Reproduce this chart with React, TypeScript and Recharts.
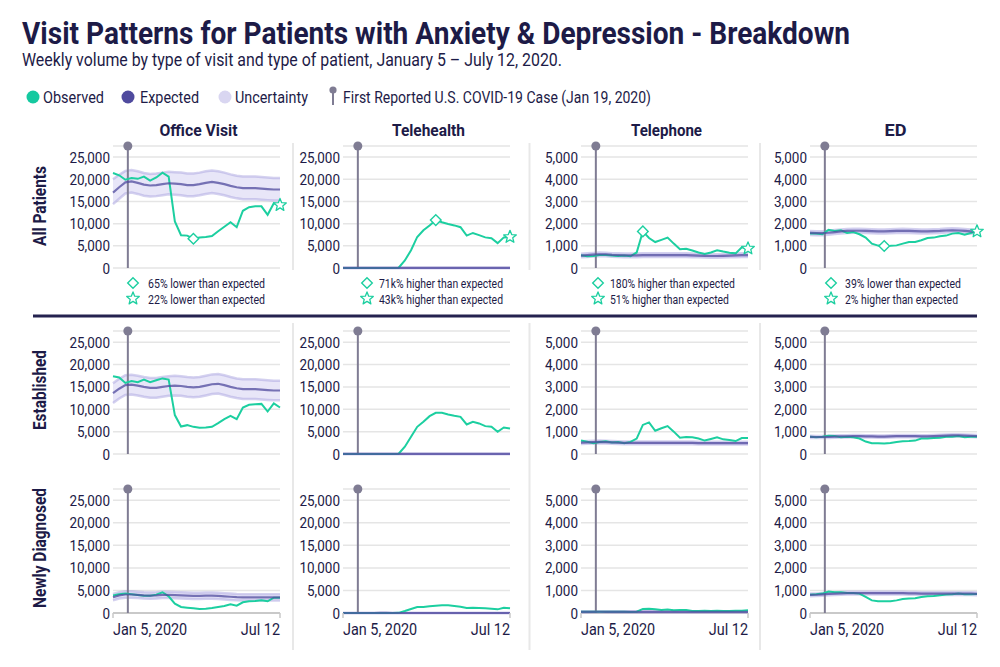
import React from "react";
import {
  ComposedChart,
  Line,
  Area,
  XAxis,
  YAxis,
  CartesianGrid,
  ReferenceLine,
  ReferenceDot
} from "recharts";

// weeks, Jan 5 – Jul 12, 2020
const WEEKS = [
  "Jan 5", "Jan 12", "Jan 19", "Jan 26", "Feb 2", "Feb 9", "Feb 16", "Feb 23", "Mar 1", "Mar 8",
  "Mar 15", "Mar 22", "Mar 29", "Apr 5", "Apr 12", "Apr 19", "Apr 26", "May 3", "May 10", "May 17",
  "May 24", "May 31", "Jun 7", "Jun 14", "Jun 21", "Jun 28", "Jul 5", "Jul 12"
];
const X_TICK_LABELS = ["Jan 5, 2020", "Jul 12"];
const PIN_WEEK = 2.4; // first reported case, between the Jan 19 and Jan 26 points

const COLUMNS = ["Office Visit", "Telehealth", "Telephone", "ED"];
const ROWS = ["All Patients", "Established", "Newly Diagnosed"];

const BIG_TICKS = [0, 5000, 10000, 15000, 20000, 25000];
const SMALL_TICKS = [0, 1000, 2000, 3000, 4000, 5000];

// ---- All patients ----
const ALL_OFFICE_OBS = [21400, 20900, 19900, 20300, 20100, 20600, 19700, 20400, 21500, 20600, 10500, 7400, 7300, 6600, 6900, 7000, 7200, 8300, 9300, 10300, 9200, 12900, 13700, 13900, 13900, 12000, 14600, 14200];
const ALL_OFFICE_EXP = [17000, 18200, 19300, 19500, 19200, 18800, 18600, 18700, 18900, 19100, 19000, 18900, 18700, 18700, 18900, 19200, 19400, 19200, 18900, 18500, 18200, 18000, 18000, 18000, 17900, 17800, 17700, 17700];
const ALL_OFFICE_LO = [14400, 15600, 16800, 17000, 16700, 16300, 16100, 16200, 16400, 16600, 16500, 16400, 16200, 16200, 16400, 16700, 16900, 16700, 16400, 16000, 15700, 15500, 15500, 15500, 15400, 15300, 15200, 15200];
const ALL_OFFICE_HI = [20000, 21000, 21900, 22100, 21800, 21400, 21200, 21300, 21500, 21700, 21600, 21500, 21300, 21300, 21500, 21800, 22000, 21800, 21500, 21100, 20800, 20600, 20600, 20600, 20500, 20400, 20300, 20300];

const ALL_TELE_OBS = [0, 0, 0, 0, 0, 0, 0, 0, 0, 60, 1700, 4000, 7000, 8500, 9600, 10800, 10300, 9900, 9600, 9200, 7300, 7900, 7400, 6900, 6700, 5600, 6900, 7000];
const ALL_TELE_EXP = [15, 15, 14, 14, 15, 15, 16, 16, 15, 15, 15, 15, 15, 15, 15, 15, 15, 15, 15, 15, 15, 15, 15, 15, 15, 15, 15, 15];
const ALL_TELE_LO = [5, 5, 4, 4, 5, 5, 6, 6, 5, 5, 5, 5, 5, 5, 5, 5, 5, 5, 5, 5, 5, 5, 5, 5, 5, 5, 5, 5];
const ALL_TELE_HI = [25, 25, 24, 24, 25, 25, 26, 26, 25, 25, 25, 25, 25, 25, 25, 25, 25, 25, 25, 25, 25, 25, 25, 25, 25, 25, 25, 25];

const ALL_PHONE_OBS = [570, 530, 540, 590, 590, 560, 540, 560, 530, 700, 1650, 1350, 1170, 1270, 1370, 1100, 850, 870, 790, 700, 630, 700, 800, 740, 690, 660, 930, 880];
const ALL_PHONE_EXP = [560, 580, 600, 620, 610, 590, 580, 570, 570, 570, 580, 580, 580, 580, 580, 580, 580, 580, 570, 560, 550, 540, 540, 550, 560, 570, 580, 580];
const ALL_PHONE_LO = [480, 500, 520, 540, 530, 510, 500, 490, 490, 490, 500, 500, 500, 500, 500, 500, 500, 500, 490, 480, 470, 460, 460, 470, 480, 490, 500, 500];
const ALL_PHONE_HI = [640, 660, 680, 700, 690, 670, 660, 650, 650, 650, 660, 660, 660, 660, 660, 660, 660, 660, 650, 640, 630, 620, 620, 630, 640, 650, 660, 660];

const ALL_ED_OBS = [1550, 1550, 1520, 1720, 1670, 1700, 1580, 1620, 1520, 1370, 1100, 1010, 990, 1000, 1020, 1100, 1170, 1170, 1250, 1350, 1370, 1430, 1460, 1550, 1580, 1500, 1580, 1650];
const ALL_ED_EXP = [1580, 1570, 1570, 1590, 1620, 1650, 1670, 1680, 1680, 1670, 1660, 1650, 1650, 1660, 1670, 1680, 1670, 1660, 1650, 1650, 1660, 1670, 1690, 1700, 1690, 1670, 1650, 1620];
const ALL_ED_LO = [1490, 1480, 1480, 1500, 1530, 1560, 1580, 1590, 1590, 1580, 1570, 1560, 1560, 1570, 1580, 1590, 1580, 1570, 1560, 1560, 1570, 1580, 1600, 1610, 1600, 1580, 1560, 1530];
const ALL_ED_HI = [1670, 1660, 1660, 1680, 1710, 1740, 1760, 1770, 1770, 1760, 1750, 1740, 1740, 1750, 1760, 1770, 1760, 1750, 1740, 1740, 1750, 1760, 1780, 1790, 1780, 1760, 1740, 1710];

// ---- Established ----
const EST_OFFICE_OBS = [17400, 17100, 15900, 16300, 16050, 16650, 16050, 16500, 16900, 16650, 8700, 6150, 6450, 6070, 5850, 5900, 6070, 6900, 7800, 8500, 7800, 10400, 11000, 11100, 11200, 9500, 11300, 10400];
const EST_OFFICE_EXP = [13600, 14600, 15400, 15500, 15300, 15000, 14800, 14800, 15000, 15200, 15300, 15200, 15000, 14900, 15000, 15300, 15600, 15700, 15400, 15000, 14700, 14500, 14500, 14500, 14400, 14300, 14200, 14200];
const EST_OFFICE_LO = [11400, 12400, 13200, 13300, 13100, 12800, 12600, 12600, 12800, 13000, 13100, 13000, 12800, 12700, 12800, 13100, 13400, 13500, 13200, 12800, 12500, 12300, 12300, 12300, 12200, 12100, 12000, 12000];
const EST_OFFICE_HI = [15800, 16800, 17600, 17700, 17500, 17200, 17000, 17000, 17200, 17400, 17500, 17400, 17200, 17100, 17200, 17500, 17800, 17900, 17600, 17200, 16900, 16700, 16700, 16700, 16600, 16500, 16400, 16400];

const EST_TELE_OBS = [0, 0, 0, 0, 0, 0, 0, 0, 0, 50, 1630, 3860, 6080, 7200, 8460, 9200, 9200, 8830, 8530, 8300, 6600, 7200, 6830, 6230, 6080, 4970, 5940, 5700];
const EST_TELE_EXP = [12, 12, 12, 11, 12, 12, 13, 13, 12, 12, 12, 12, 12, 12, 12, 12, 12, 12, 12, 12, 12, 12, 12, 12, 12, 12, 12, 12];
const EST_TELE_LO = [4, 4, 4, 3, 4, 4, 5, 5, 4, 4, 4, 4, 4, 4, 4, 4, 4, 4, 4, 4, 4, 4, 4, 4, 4, 4, 4, 4];
const EST_TELE_HI = [20, 20, 20, 19, 20, 20, 21, 21, 20, 20, 20, 20, 20, 20, 20, 20, 20, 20, 20, 20, 20, 20, 20, 20, 20, 20, 20, 20];

const EST_PHONE_OBS = [600, 550, 480, 540, 570, 510, 540, 480, 540, 690, 1300, 1415, 1040, 1150, 1250, 1000, 730, 760, 745, 690, 600, 670, 745, 655, 625, 580, 715, 715];
const EST_PHONE_EXP = [510, 520, 530, 540, 530, 520, 510, 500, 500, 500, 500, 500, 500, 500, 500, 500, 500, 500, 500, 490, 490, 490, 490, 490, 490, 490, 490, 490];
const EST_PHONE_LO = [450, 460, 470, 480, 470, 460, 450, 440, 440, 440, 440, 440, 440, 440, 440, 440, 440, 440, 440, 430, 430, 430, 430, 430, 430, 430, 430, 430];
const EST_PHONE_HI = [570, 580, 590, 600, 590, 580, 570, 560, 560, 560, 560, 560, 560, 560, 560, 560, 560, 560, 560, 550, 550, 550, 550, 550, 550, 550, 550, 550];

const EST_ED_OBS = [775, 745, 775, 820, 805, 745, 775, 745, 690, 555, 480, 480, 465, 490, 540, 570, 580, 600, 690, 690, 715, 730, 775, 775, 805, 745, 775, 775];
const EST_ED_EXP = [770, 760, 760, 770, 780, 790, 790, 800, 800, 790, 790, 780, 780, 790, 800, 800, 800, 800, 790, 790, 800, 810, 820, 830, 830, 820, 810, 800];
const EST_ED_LO = [720, 710, 710, 720, 730, 740, 740, 750, 750, 740, 740, 730, 730, 740, 750, 750, 750, 750, 740, 740, 750, 760, 770, 780, 780, 770, 760, 750];
const EST_ED_HI = [820, 810, 810, 820, 830, 840, 840, 850, 850, 840, 840, 830, 830, 840, 850, 850, 850, 850, 840, 840, 850, 860, 870, 880, 880, 870, 860, 850];

// ---- Newly diagnosed ----
const NEW_OFFICE_OBS = [3900, 4150, 4300, 4150, 4000, 3800, 3850, 4070, 4600, 3700, 2070, 1330, 1180, 1040, 890, 960, 1110, 1330, 1550, 1920, 1630, 2370, 2590, 2660, 2810, 2590, 3400, 3400];
const NEW_OFFICE_EXP = [3500, 3900, 4100, 4100, 4000, 3900, 3850, 3900, 4000, 4000, 3950, 3900, 3850, 3800, 3800, 3850, 3850, 3800, 3700, 3600, 3500, 3450, 3450, 3450, 3450, 3450, 3450, 3450];
const NEW_OFFICE_LO = [2800, 3200, 3400, 3400, 3300, 3200, 3150, 3200, 3300, 3300, 3250, 3200, 3150, 3100, 3100, 3150, 3150, 3100, 3000, 2900, 2800, 2750, 2750, 2750, 2750, 2750, 2750, 2750];
const NEW_OFFICE_HI = [4200, 4600, 4800, 4800, 4700, 4600, 4550, 4600, 4700, 4700, 4650, 4600, 4550, 4500, 4500, 4550, 4550, 4500, 4400, 4300, 4200, 4150, 4150, 4150, 4150, 4150, 4150, 4150];

const NEW_TELE_OBS = [0, 0, 0, 0, 0, 0, 0, 0, 0, 30, 440, 890, 1330, 1330, 1480, 1630, 1700, 1700, 1550, 1400, 1110, 1180, 1110, 1040, 960, 810, 1180, 1040];
const NEW_TELE_EXP = [5, 5, 5, 4, 5, 5, 6, 6, 5, 5, 5, 5, 5, 5, 5, 5, 5, 5, 5, 5, 5, 5, 5, 5, 5, 5, 5, 5];
const NEW_TELE_LO = [1, 1, 1, 0, 1, 1, 2, 2, 1, 1, 1, 1, 1, 1, 1, 1, 1, 1, 1, 1, 1, 1, 1, 1, 1, 1, 1, 1];
const NEW_TELE_HI = [9, 9, 9, 8, 9, 9, 10, 10, 9, 9, 9, 9, 9, 9, 9, 9, 9, 9, 9, 9, 9, 9, 9, 9, 9, 9, 9, 9];

const NEW_PHONE_OBS = [60, 55, 50, 55, 60, 50, 55, 50, 45, 60, 180, 190, 165, 135, 150, 120, 135, 135, 90, 90, 105, 90, 105, 90, 90, 105, 105, 120];
const NEW_PHONE_EXP = [50, 52, 54, 55, 54, 52, 50, 50, 50, 50, 50, 50, 50, 50, 50, 50, 50, 50, 50, 48, 48, 48, 48, 48, 48, 48, 48, 48];
const NEW_PHONE_LO = [25, 27, 29, 30, 29, 27, 25, 25, 25, 25, 25, 25, 25, 25, 25, 25, 25, 25, 25, 23, 23, 23, 23, 23, 23, 23, 23, 23];
const NEW_PHONE_HI = [75, 77, 79, 80, 79, 77, 75, 75, 75, 75, 75, 75, 75, 75, 75, 75, 75, 75, 75, 73, 73, 73, 73, 73, 73, 73, 73, 73];

const NEW_ED_OBS = [815, 830, 860, 950, 920, 920, 890, 890, 860, 710, 560, 520, 520, 520, 560, 620, 640, 650, 710, 740, 755, 785, 815, 830, 860, 830, 830, 845];
const NEW_ED_EXP = [800, 810, 830, 850, 860, 870, 880, 880, 880, 880, 880, 880, 880, 880, 880, 880, 870, 870, 860, 860, 860, 860, 860, 860, 860, 860, 860, 850];
const NEW_ED_LO = [740, 750, 770, 790, 800, 810, 820, 820, 820, 820, 820, 820, 820, 820, 820, 820, 810, 810, 800, 800, 800, 800, 800, 800, 800, 800, 800, 790];
const NEW_ED_HI = [860, 870, 890, 910, 920, 930, 940, 940, 940, 940, 940, 940, 940, 940, 940, 940, 930, 930, 920, 920, 920, 920, 920, 920, 920, 920, 920, 910];

// week flagged with the diamond in the top row (largest gap), per column
const DIAMOND_WEEK = [13, 15, 10, 12];
const DIAMOND_NOTES = ["65% lower than expected", "71k% higher than expected", "180% higher than expected", "39% lower than expected"];
const STAR_NOTES = ["22% lower than expected", "43k% higher than expected", "51% higher than expected", "2% higher than expected"];

const PANELS = [
  [ALL_OFFICE_OBS, ALL_OFFICE_EXP, ALL_OFFICE_LO, ALL_OFFICE_HI],
  [ALL_TELE_OBS, ALL_TELE_EXP, ALL_TELE_LO, ALL_TELE_HI],
  [ALL_PHONE_OBS, ALL_PHONE_EXP, ALL_PHONE_LO, ALL_PHONE_HI],
  [ALL_ED_OBS, ALL_ED_EXP, ALL_ED_LO, ALL_ED_HI],
  [EST_OFFICE_OBS, EST_OFFICE_EXP, EST_OFFICE_LO, EST_OFFICE_HI],
  [EST_TELE_OBS, EST_TELE_EXP, EST_TELE_LO, EST_TELE_HI],
  [EST_PHONE_OBS, EST_PHONE_EXP, EST_PHONE_LO, EST_PHONE_HI],
  [EST_ED_OBS, EST_ED_EXP, EST_ED_LO, EST_ED_HI],
  [NEW_OFFICE_OBS, NEW_OFFICE_EXP, NEW_OFFICE_LO, NEW_OFFICE_HI],
  [NEW_TELE_OBS, NEW_TELE_EXP, NEW_TELE_LO, NEW_TELE_HI],
  [NEW_PHONE_OBS, NEW_PHONE_EXP, NEW_PHONE_LO, NEW_PHONE_HI],
  [NEW_ED_OBS, NEW_ED_EXP, NEW_ED_LO, NEW_ED_HI]
];

// colours
const OBS_COLOR = "#1ccfa0";
const EXP_COLOR = "#4f4a9e";
const BAND_FILL = "#e8e6f8";
const BAND_EDGE = "#a9a4e0";
const PIN_COLOR = "#7f7c93";
const GRID = "#e5e5e5";
const AXIS = "#c9c9c9";
const INK = "#1d1b47";
const FONT = "Roboto, 'Noto Sans', sans-serif";

// layout
const COL_X = [113, 343, 581, 810];
const PLOT_W = 167;
const ROW_TOP = [146, 331, 489];
const ROW_H = [122, 123, 124];
const Y_AXIS_W = 62;
const PAD = 12;
const X_AXIS_H = 30;
const ICON_X = [133, 367, 598, 831];
const NOTE_X = [148, 379, 610, 845];
const DIAMOND_LEN = [117, 124, 125, 116];
const STAR_LEN = [117, 124, 119, 113];
const COL_TITLE_LEN = [78, 73, 71, 22];
const ROW_LABEL_Y = [206, 390, 548];
const ROW_LABEL_LEN = [80, 80, 120];

function starPoints(cx: number, cy: number, R: number, r: number) {
  const pts: string[] = [];
  for (let k = 0; k < 10; k++) {
    const a = -Math.PI / 2 + (k * Math.PI) / 5;
    const rad = k % 2 === 0 ? R : r;
    pts.push(`${(cx + rad * Math.cos(a)).toFixed(2)},${(cy + rad * Math.sin(a)).toFixed(2)}`);
  }
  return pts.join(" ");
}

function Diamond({ cx, cy }: { cx: number; cy: number }) {
  const s = 5.3;
  return (
    <polygon
      points={`${cx},${cy - s} ${cx + s},${cy} ${cx},${cy + s} ${cx - s},${cy}`}
      fill="#fff"
      stroke={OBS_COLOR}
      strokeWidth={1.4}
    />
  );
}

function Star({ cx, cy }: { cx: number; cy: number }) {
  return <polygon points={starPoints(cx, cy, 6.6, 2.9)} fill="#fff" stroke={OBS_COLOR} strokeWidth={1.3} strokeLinejoin="round" />;
}

function YTick(props: any) {
  const { x, y, payload } = props;
  return (
    <g transform={`translate(${x},${y})`}>
      <text textAnchor="end" dy="0.36em" transform="scale(0.87,1)" fontSize={15.5} fill={INK} fontFamily={FONT}>
        {Number(payload.value).toLocaleString("en-US")}
      </text>
    </g>
  );
}

function XTick(props: any) {
  const { x, y, payload } = props;
  const first = payload.value === 0;
  return (
    <g transform={`translate(${x},${y})`}>
      <text textAnchor={first ? "start" : "end"} dy={15} transform="scale(0.9,1)" fontSize={16} fill={INK} fontFamily={FONT}>
        {first ? X_TICK_LABELS[0] : X_TICK_LABELS[1]}
      </text>
    </g>
  );
}

function Panel({ row, col }: { row: number; col: number }) {
  const [obs, exp, lo, hi] = PANELS[row * 4 + col];
  const big = col < 2;
  const max = big ? 27500 : 5500;
  const bottomRow = row === 2;
  const w = Y_AXIS_W + PLOT_W + PAD;
  const h = PAD + ROW_H[row] + (bottomRow ? X_AXIS_H : 14);
  const data = WEEKS.map((week, i) => ({
    i,
    week,
    obs: obs[i],
    exp: exp[i],
    lo: lo[i],
    hi: hi[i],
    band: [lo[i], hi[i]]
  }));
  const markDot = (p: any) => {
    if (row === 0 && p.index === DIAMOND_WEEK[col]) return <Diamond key={`m${p.index}`} cx={p.cx} cy={p.cy} />;
    if (row === 0 && p.index === WEEKS.length - 1) return <Star key={`m${p.index}`} cx={p.cx} cy={p.cy} />;
    return <g key={`m${p.index}`} />;
  };

  return (
    <div style={{ position: "absolute", left: COL_X[col] - Y_AXIS_W, top: ROW_TOP[row] - PAD, width: w, height: h }}>
      <ComposedChart width={w} height={h} data={data} margin={{ top: PAD, right: PAD, left: 0, bottom: bottomRow ? 0 : 14 }}>
        <CartesianGrid vertical={false} stroke={GRID} strokeWidth={1.5} />
        {bottomRow && <ReferenceLine y={0} stroke={AXIS} strokeWidth={2} />}
        <XAxis
          dataKey="i"
          type="number"
          domain={[0, 27]}
          ticks={[0, 27]}
          interval={0}
          hide={!bottomRow}
          height={X_AXIS_H}
          axisLine={false}
          tickLine={{ stroke: AXIS, strokeWidth: 1.5 }}
          tickSize={5}
          tickMargin={2}
          tick={<XTick />}
        />
        <YAxis
          domain={[0, max]}
          ticks={big ? BIG_TICKS : SMALL_TICKS}
          interval={0}
          width={Y_AXIS_W}
          axisLine={false}
          tickLine={false}
          tickSize={0}
          tickMargin={3}
          tick={<YTick />}
        />
        <Area dataKey="band" stroke="none" fill={BAND_FILL} fillOpacity={1} isAnimationActive={false} />
        <Line dataKey="lo" stroke={BAND_EDGE} strokeOpacity={0.5} strokeWidth={2.5} dot={false} activeDot={false} isAnimationActive={false} />
        <Line dataKey="hi" stroke={BAND_EDGE} strokeOpacity={0.5} strokeWidth={2.5} dot={false} activeDot={false} isAnimationActive={false} />
        <ReferenceLine x={PIN_WEEK} stroke={PIN_COLOR} strokeWidth={2} />
        <ReferenceDot x={PIN_WEEK} y={max} r={4.5} fill={PIN_COLOR} stroke="none" ifOverflow="visible" />
        <Line dataKey="obs" stroke={OBS_COLOR} strokeWidth={2} dot={markDot} activeDot={false} isAnimationActive={false} />
        <Line dataKey="exp" stroke={EXP_COLOR} strokeOpacity={0.75} strokeWidth={2.2} dot={false} activeDot={false} isAnimationActive={false} />
      </ComposedChart>
    </div>
  );
}

export default function App() {
  return (
    <div style={{ position: "absolute", left: 0, top: 0, width: 1000, height: 667, background: "#fff", fontFamily: FONT }}>
      <svg width={1000} height={667} style={{ position: "absolute", left: 0, top: 0 }}>
        <text x={22} y={44} fontSize={31} fontWeight={700} fill={INK} textLength={828} lengthAdjust="spacingAndGlyphs">
          Visit Patterns for Patients with Anxiety &amp; Depression - Breakdown
        </text>
        <text x={22} y={66} fontSize={17.5} fill={INK} textLength={540} lengthAdjust="spacingAndGlyphs">
          Weekly volume by type of visit and type of patient, January 5 – July 12, 2020.
        </text>

        {/* legend */}
        <circle cx={33} cy={97} r={6.5} fill="#15c9a0" />
        <text x={43} y={102.5} fontSize={16} fill={INK} textLength={61} lengthAdjust="spacingAndGlyphs">Observed</text>
        <circle cx={128} cy={97} r={6.5} fill="#4f4a9e" />
        <text x={140} y={102.5} fontSize={16} fill={INK} textLength={59} lengthAdjust="spacingAndGlyphs">Expected</text>
        <circle cx={225} cy={97} r={6.5} fill="#d9d6f1" />
        <text x={235} y={102.5} fontSize={16} fill={INK} textLength={73} lengthAdjust="spacingAndGlyphs">Uncertainty</text>
        <line x1={333} y1={91} x2={333} y2={105} stroke={PIN_COLOR} strokeWidth={2} />
        <circle cx={333} cy={90} r={3.6} fill={PIN_COLOR} />
        <text x={343} y={102.5} fontSize={16} fill={INK} textLength={308} lengthAdjust="spacingAndGlyphs">
          First Reported U.S. COVID-19 Case (Jan 19, 2020)
        </text>

        {/* column titles */}
        {COLUMNS.map((c, k) => (
          <text key={c} x={COL_X[k] + PLOT_W / 2 + 2} y={136} textAnchor="middle" fontSize={17} fontWeight={700} fill={INK} textLength={COL_TITLE_LEN[k]} lengthAdjust="spacingAndGlyphs">
            {c}
          </text>
        ))}

        {/* row labels */}
        {ROWS.map((r, k) => (
          <text key={r} transform={`translate(46,${ROW_LABEL_Y[k]}) rotate(-90)`} textAnchor="middle" fontSize={18} fontWeight={700} fill={INK} textLength={ROW_LABEL_LEN[k]} lengthAdjust="spacingAndGlyphs">
            {r}
          </text>
        ))}

        {/* separators */}
        {[293, 529.5, 760].map((x) => (
          <g key={x}>
            <line x1={x} y1={143} x2={x} y2={270} stroke="#e8e8e8" strokeWidth={2} />
            <line x1={x} y1={323} x2={x} y2={650} stroke="#e8e8e8" strokeWidth={2} />
          </g>
        ))}
        <line x1={33} y1={316} x2={977} y2={316} stroke="#24224f" strokeWidth={3} />

        {/* notes under the top row */}
        {COLUMNS.map((c, k) => (
          <g key={`n${c}`}>
            <Diamond cx={ICON_X[k]} cy={283} />
            <text x={NOTE_X[k]} y={287.5} fontSize={12.5} fill={INK} textLength={DIAMOND_LEN[k]} lengthAdjust="spacingAndGlyphs">
              {DIAMOND_NOTES[k]}
            </text>
            <Star cx={ICON_X[k]} cy={298.5} />
            <text x={NOTE_X[k]} y={303.5} fontSize={12.5} fill={INK} textLength={STAR_LEN[k]} lengthAdjust="spacingAndGlyphs">
              {STAR_NOTES[k]}
            </text>
          </g>
        ))}
      </svg>

      {ROWS.map((r, row) =>
        COLUMNS.map((c, col) => <Panel key={`${r}-${c}`} row={row} col={col} />)
      )}
    </div>
  );
}
